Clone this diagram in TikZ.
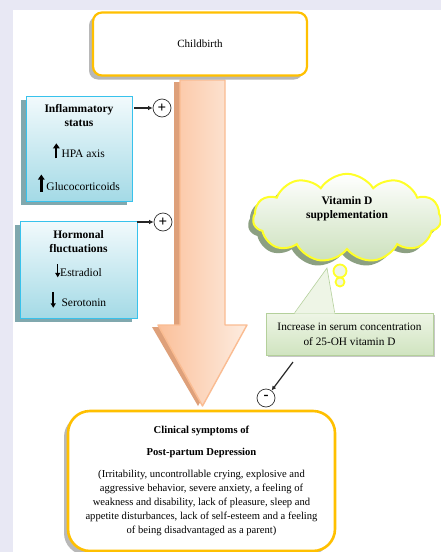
\documentclass[tikz,border=0pt]{standalone}
\usepackage{fontspec}
\setmainfont{Liberation Serif}
\usetikzlibrary{arrows.meta,positioning,shapes.symbols,shadows,calc}

\definecolor{pagebg}{RGB}{232,232,244}
\definecolor{gold}{RGB}{255,192,0}
\definecolor{peach}{RGB}{251,192,154}
\definecolor{peachlight}{RGB}{253,236,224}
\definecolor{peachdark}{RGB}{222,160,122}
\definecolor{peachline}{RGB}{250,188,146}
\definecolor{bluetop}{RGB}{242,250,252}
\definecolor{bluebot}{RGB}{164,218,230}
\definecolor{blueline}{RGB}{56,194,236}
\definecolor{blueshadow}{RGB}{128,168,174}
\definecolor{cloudline}{RGB}{255,255,40}
\definecolor{cloudbot}{RGB}{204,225,188}
\definecolor{cloudshadow}{RGB}{140,160,130}
\definecolor{greentop}{RGB}{238,245,230}
\definecolor{greenbot}{RGB}{208,228,192}
\definecolor{greenline}{RGB}{180,208,155}

\newcommand{\uparr}[2]{\tikz[baseline=0pt]\draw[-{Triangle[width=6.5pt,length=5pt]},line width=#1] (0,-1pt) -- (0,#2);}
\newcommand{\downarr}[2]{\tikz[baseline=0pt]\draw[-{Triangle[width=5pt,length=4.5pt]},line width=#1] (0,#2) -- (0,-1pt);}

\tikzset{
  callout/.style={
    rectangle,
    rounded corners=9pt,
    draw=gold,
    line width=2.2pt,
    fill=white,
    align=center,
    font=\fontsize{11}{13}\selectfont,
    drop shadow={shadow xshift=-4pt,shadow yshift=-4pt,fill=black!28,opacity=1}
  },
  infobox/.style={
    rectangle,
    draw=blueline,
    line width=0.9pt,
    top color=bluetop,
    bottom color=bluebot,
    align=center,
    inner sep=0pt,
    font=\fontsize{11.5}{14}\selectfont,
    drop shadow={shadow xshift=-5pt,shadow yshift=-4pt,fill=blueshadow,opacity=1}
  },
  thought/.style={
    cloud,
    cloud puffs=11,
    cloud puff arc=115,
    aspect=2.1,
    draw=cloudline,
    line width=2pt,
    top color=white,
    bottom color=cloudbot,
    align=center,
    font=\fontsize{11.5}{14}\selectfont,
    drop shadow={shadow xshift=-5pt,shadow yshift=-5pt,fill=cloudshadow,opacity=1}
  },
  bubble/.style={
    circle,
    draw=cloudline,
    line width=1.8pt,
    fill=greentop,
    inner sep=0pt
  },
  notebox/.style={
    rectangle,
    draw=greenline,
    line width=0.6pt,
    top color=greentop,
    bottom color=greenbot,
    align=center,
    font=\fontsize{11.3}{15}\selectfont,
    drop shadow={shadow xshift=2pt,shadow yshift=-2pt,fill=black!22,opacity=1}
  },
  sign/.style={
    circle,
    draw=black!80,
    line width=0.7pt,
    fill=white,
    minimum size=18pt,
    inner sep=0pt,
    font=\fontsize{15}{15}\bfseries\selectfont
  },
  arrow/.style={
    -{Latex[length=4.5pt,width=4.5pt]},
    line width=1.2pt,
    draw=black!85
  },
  bigarrow/.style={
    left color=peach,
    right color=peachlight,
    draw=peachline,
    line width=1.4pt,
    line join=round
  }
}

\begin{document}
\begin{tikzpicture}[x=1pt,y=-1pt]
  \useasboundingbox (0,0) rectangle (441,552);
  \fill[pagebg] (0,0) rectangle (441,552);
  \fill[white] (13,10) rectangle (441,552);

  % broad arrow from childbirth down to the symptoms
  \fill[peachdark] (174,82) -- (219,82) -- (219,327) -- (242,327) -- (198,406) -- (152,327) -- (174,327) -- cycle;
  \path[bigarrow] (180,80) -- (225,80) -- (225,325) -- (247,325) -- (202.5,406) -- (158,325) -- (180,325) -- cycle;

  \node[callout, minimum width=214pt, minimum height=63pt] (birth) at (200,44) {Childbirth};

  \node[infobox, minimum width=106pt, minimum height=105pt] (inflam) at (79,148.5)
    {\textbf{Inflammatory}\\\textbf{status}\\[15pt]\uparr{1.9pt}{14pt}\,HPA axis\\[13pt]\uparr{2.6pt}{16pt}\,Glucocorticoids};
  \node[infobox, minimum width=117pt, minimum height=97pt] (hormon) at (78.5,269.5)
    {\textbf{Hormonal}\\\textbf{fluctuations}\\[10pt]\downarr{1.1pt}{12pt}Estradiol\\[12pt]\downarr{1.8pt}{15pt}\ \ Serotonin};

  \node[sign] (plusA) at (162,108) {+};
  \node[sign] (plusB) at (163,222) {+};

  \draw[arrow] (inflam.east |- plusA) ++(2,0) -- (plusA);
  \draw[arrow] (hormon.east |- plusB) -- (plusB);

  % callout pointer of the serum note
  \coordinate (tip) at (327,268);
  \node[notebox, minimum width=167pt, minimum height=42pt] (serum) at (349.5,334)
    {Increase in serum concentration\\of 25-OH vitamin D};
  \fill[greentop] ($(serum.north west)+(29,0.8)$) -- (tip) -- ($(serum.north west)+(69,0.8)$) -- cycle;
  \draw[greenline, line width=0.6pt] ($(serum.north west)+(29,0)$) -- (tip) -- ($(serum.north west)+(69,0)$);

  \node[thought, minimum width=188pt, minimum height=88pt, text depth=20pt] (vitd) at (347,218)
    {\textbf{Vitamin D}\\\textbf{supplementation}};
  \node[bubble, minimum size=13pt] (bubA) at (340,271) {};
  \node[bubble, minimum size=9pt] (bubB) at (340,282) {};

  \node[sign] (minus) at (266,398) {\raisebox{1pt}{-}};
  \coordinate (m0) at (293,362);
  \draw[arrow] (m0) -- (minus);

  \node[callout, rounded corners=22pt, line width=2.6pt, minimum width=267pt, minimum height=140pt,
        font=\fontsize{10.6}{14}\selectfont] (ppd) at (201.5,481)
    {\textbf{Clinical symptoms of}\\[8pt]\textbf{Post-partum Depression}\\[8pt]%
     (Irritability, uncontrollable crying, explosive and\\
     aggressive behavior, severe anxiety, a feeling of\\
     weakness and disability, lack of pleasure, sleep and\\
     appetite disturbances, lack of self-esteem and a feeling\\
     of being disadvantaged as a parent)};
\end{tikzpicture}
\end{document}
